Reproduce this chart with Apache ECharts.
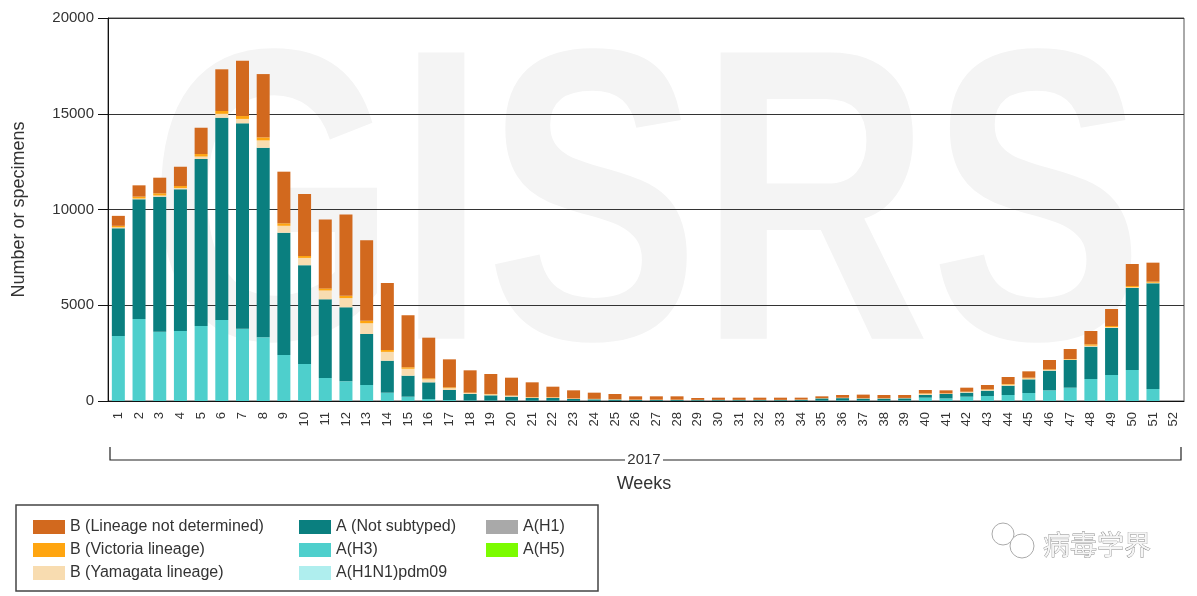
<!DOCTYPE html>
<html>
<head>
<meta charset="utf-8">
<script src="https://cdn.jsdelivr.net/npm/echarts@6/dist/echarts.min.js"></script>
<style>
  html, body { margin: 0; padding: 0; background: #fff; }
  #chart { width: 1197px; height: 596px; }
</style>
</head>
<body>
<div id="chart"></div>
<script>
// weeks of 2017
const weeks = ['1','2','3','4','5','6','7','8','9','10','11','12','13','14','15','16','17','18','19','20',
  '21','22','23','24','25','26','27','28','29','30','31','32','33','34','35','36','37','38','39','40',
  '41','42','43','44','45','46','47','48','49','50','51','52'];

// specimen counts per week
const aH3 = [3394,4282,3620,3655,3916,4230,3776,3326,2402,1932,1201,1028,836,435,226,100,50,30,25,20,
  15,15,10,10,10,5,5,5,5,5,5,5,5,10,20,30,25,25,30,174,
  135,226,261,313,418,557,696,1149,1358,1619,627,0];
const aNotSubtyped = [5624,6250,7050,7400,8720,10565,10724,9900,6387,5160,4110,3865,2663,1670,1097,875,524,336,272,206,
  142,142,94,77,60,47,45,45,40,40,40,40,40,50,115,120,100,100,110,139,
  231,209,279,488,713,1027,1445,1688,2454,4282,5519,0];
const bYamagata = [50,40,60,70,130,200,230,380,360,380,460,480,560,460,360,160,100,50,50,40,
  30,25,20,15,15,10,10,10,10,10,10,10,10,10,10,15,15,15,15,60,
  20,35,45,55,50,40,30,50,50,40,30,0];
const bVictoria = [80,100,116,100,130,150,150,160,130,100,110,120,130,100,80,50,40,20,20,20,
  15,15,10,10,10,10,10,10,5,5,5,5,5,5,5,5,5,5,5,27,
  14,17,24,32,37,30,22,72,54,64,56,0];
const bNotDetermined = [520,590,815,1008,1374,2176,2888,3306,2696,3238,3603,4250,4199,3499,2715,2122,1461,1166,1043,932,
  773,551,423,323,271,172,174,174,97,114,114,114,114,99,94,143,188,168,153,174,
  157,209,227,365,331,487,522,696,888,1149,992,0];
const aH1N1pdm09 = [];
const aH1 = [];
const aH5 = [];

const yTicks = [0, 5000, 10000, 15000, 20000];

const font = 'Liberation Sans, Arial, sans-serif';
const chart = echarts.init(document.getElementById('chart'));

function bar(name, data, color) {
  return {
    name: name,
    type: 'bar',
    stack: 'total',
    barWidth: 13,
    data: data,
    itemStyle: { color: color },
    emphasis: { disabled: true }
  };
}

function legendCol(left, names) {
  return {
    orient: 'vertical',
    left: left,
    top: 514,
    itemWidth: 32,
    itemHeight: 14,
    itemGap: 7,
    icon: 'rect',
    selectedMode: false,
    textStyle: { fontFamily: font, fontSize: 16, color: '#333' },
    data: names
  };
}

const option = {
  animation: false,
  textStyle: { fontFamily: font },
  grid: {
    left: 108, right: 13, top: 18, height: 383,
    show: true, borderColor: '#555', borderWidth: 1
  },
  legend: [
    legendCol(28, ['B (Lineage not determined)', 'B (Victoria lineage)', 'B (Yamagata lineage)']),
    legendCol(294, ['A (Not subtyped)', 'A(H3)', 'A(H1N1)pdm09']),
    legendCol(481, ['A(H1)', 'A(H5)'])
  ],
  xAxis: {
    type: 'category',
    data: weeks,
    axisLine: { lineStyle: { color: '#111' } },
    axisTick: { alignWithLabel: true, length: 6, lineStyle: { color: '#111' } },
    axisLabel: { interval: 0, rotate: 90, fontSize: 13, color: '#333', margin: 11 }
  },
  yAxis: {
    type: 'value',
    min: yTicks[0],
    max: yTicks[yTicks.length - 1],
    interval: 5000,
    name: 'Number or specimens',
    nameLocation: 'middle',
    nameGap: 80,
    nameTextStyle: { fontSize: 18, color: '#333' },
    axisLine: { show: true, lineStyle: { color: '#111' } },
    axisTick: { show: true, length: 10, lineStyle: { color: '#111' } },
    axisLabel: { fontSize: 15, color: '#333', margin: 14, formatter: v => String(v) },
    splitLine: { lineStyle: { color: '#333', width: 1 } }
  },
  series: [
    bar('A(H1N1)pdm09', aH1N1pdm09, '#afeeee'),
    bar('A(H3)', aH3, '#4ecfcc'),
    bar('A (Not subtyped)', aNotSubtyped, '#0a7f7f'),
    bar('A(H1)', aH1, '#a9a9a9'),
    bar('A(H5)', aH5, '#7cfc00'),
    bar('B (Yamagata lineage)', bYamagata, '#f8dcb0'),
    bar('B (Victoria lineage)', bVictoria, '#ffa510'),
    bar('B (Lineage not determined)', bNotDetermined, '#d2691e')
  ],
  graphic: [
    // faint GISRS watermark behind the plot
    {
      type: 'text', x: 148, y: 224, z: -10, scaleY: 1.3, scaleX: 1.0, silent: true,
      style: { text: 'GISRS', font: 'bold 320px ' + font, fill: '#f4f4f4', align: 'left', verticalAlign: 'middle' }
    },
    // year bracket under the week labels
    {
      type: 'polyline', z: 5,
      shape: { points: [[110, 447], [110, 460], [1181, 460], [1181, 447]] },
      style: { stroke: '#222', lineWidth: 1.2, fill: null }
    },
    { type: 'rect', z: 6, shape: { x: 625, y: 450, width: 38, height: 20 }, style: { fill: '#fff' } },
    {
      type: 'text', x: 644, y: 460, z: 7,
      style: { text: '2017', font: '15px ' + font, fill: '#333', align: 'center', verticalAlign: 'middle' }
    },
    {
      type: 'text', x: 644, y: 484, z: 7,
      style: { text: 'Weeks', font: '18px ' + font, fill: '#333', align: 'center', verticalAlign: 'middle' }
    },
    // legend frame
    {
      type: 'rect', z: 1,
      shape: { x: 16, y: 505, width: 582, height: 86 },
      style: { fill: null, stroke: '#444', lineWidth: 1.5 }
    },
    // wechat mark
    { type: 'circle', z: 1, shape: { cx: 1003, cy: 534, r: 11 }, style: { fill: '#fff', stroke: '#aaa', lineWidth: 1 } },
    { type: 'circle', z: 2, shape: { cx: 1022, cy: 546, r: 12 }, style: { fill: '#fff', stroke: '#aaa', lineWidth: 1 } },
    {
      type: 'text', x: 1043, y: 545, z: 3,
      style: { text: '病毒学界', font: '27px "Noto Sans CJK SC"', fill: '#f6f6f6', stroke: '#8a8a8a', lineWidth: 0.8, verticalAlign: 'middle' }
    }
  ]
};

chart.setOption(option);
</script>
</body>
</html>
